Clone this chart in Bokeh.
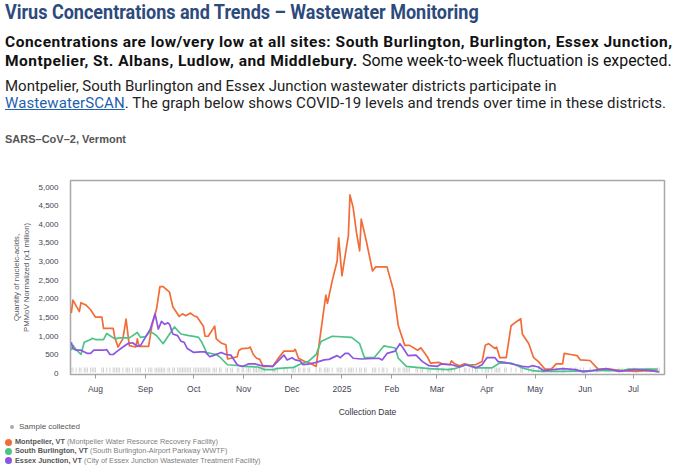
import numpy as np
import pandas as pd
from bokeh.plotting import figure
from bokeh.models import Range1d, FixedTicker, Div, NumeralTickFormatter
from bokeh.layouts import column
from bokeh.embed import file_html
from bokeh.resources import INLINE

# ---------------------------------------------------------------- data
montpelier_dates = [
    "2024-07-17", "2024-07-18", "2024-07-22", "2024-07-23", "2024-07-26", "2024-07-29",
    "2024-08-01", "2024-08-05", "2024-08-06", "2024-08-12", "2024-08-13", "2024-08-15",
    "2024-08-18", "2024-08-20", "2024-08-22", "2024-08-26", "2024-08-27", "2024-08-28",
    "2024-09-03", "2024-09-05", "2024-09-08", "2024-09-10", "2024-09-12", "2024-09-16",
    "2024-09-18", "2024-09-22", "2024-09-24", "2024-09-26", "2024-09-29", "2024-10-01",
    "2024-10-03", "2024-10-07", "2024-10-08", "2024-10-10", "2024-10-14", "2024-10-15",
    "2024-10-18", "2024-10-21", "2024-10-22", "2024-10-25", "2024-10-28", "2024-10-29",
    "2024-10-31", "2024-11-04", "2024-11-05", "2024-11-07", "2024-11-09", "2024-11-11",
    "2024-11-13", "2024-11-19", "2024-11-22", "2024-11-26", "2024-12-02", "2024-12-03",
    "2024-12-05", "2024-12-09", "2024-12-12", "2024-12-16", "2024-12-18", "2024-12-22",
    "2024-12-23", "2024-12-26", "2024-12-29", "2024-12-30", "2025-01-01", "2025-01-05",
    "2025-01-06", "2025-01-08", "2025-01-10", "2025-01-12", "2025-01-13", "2025-01-16",
    "2025-01-20", "2025-01-22", "2025-01-29", "2025-02-02", "2025-02-05", "2025-02-09",
    "2025-02-12", "2025-02-17", "2025-02-19", "2025-02-23", "2025-02-25", "2025-03-02",
    "2025-03-05", "2025-03-09", "2025-03-10", "2025-03-12", "2025-03-15", "2025-03-18",
    "2025-03-21", "2025-03-25", "2025-03-29", "2025-03-31", "2025-04-02", "2025-04-06",
    "2025-04-07", "2025-04-09", "2025-04-13", "2025-04-16", "2025-04-19", "2025-04-22",
    "2025-04-23", "2025-04-27", "2025-04-30", "2025-05-03", "2025-05-07", "2025-05-11",
    "2025-05-14", "2025-05-18", "2025-05-19", "2025-05-23", "2025-05-27", "2025-05-29",
    "2025-06-04", "2025-06-09", "2025-06-16", "2025-06-24", "2025-07-03", "2025-07-09",
    "2025-07-16",
]
montpelier_values = [
    1620, 1970, 1660, 1900, 1840, 1710,
    1510, 1510, 1210, 1210, 970, 710,
    930, 1460, 750, 710, 930, 730,
    730, 1270, 1750, 2330, 2330, 2180,
    1790, 1530, 1600, 1550, 1620, 1550,
    1520, 1270, 1000, 1000, 1270, 930,
    820, 770, 390, 420, 450, 620,
    670, 680, 710, 510, 410, 380,
    190, 190, 380, 600, 600, 650,
    410, 320, 280, 190, 840, 2100,
    1880, 2490, 3010, 3640, 2620, 3700,
    4790, 4440, 3790, 3290, 4140, 3580,
    2750, 2860, 2860, 2230, 1280, 755,
    755, 625, 690, 450, 280, 300,
    250, 235, 340, 260, 210, 260,
    235, 235, 320, 755, 800, 670,
    710, 425, 425, 1280, 1380, 1470,
    1060, 800, 425, 320, 120, 120,
    260, 260, 540, 510, 480, 365,
    350, 120, 120, 80, 60, 80,
    60,
]

south_burlington_dates = [
    "2024-07-17", "2024-07-18", "2024-07-20", "2024-07-23", "2024-07-25", "2024-07-29",
    "2024-07-30", "2024-08-01", "2024-08-06", "2024-08-08", "2024-08-13", "2024-08-16",
    "2024-08-22", "2024-08-27", "2024-08-29", "2024-09-01", "2024-09-04", "2024-09-08",
    "2024-09-12", "2024-09-16", "2024-09-19", "2024-09-23", "2024-09-28", "2024-10-02",
    "2024-10-04", "2024-10-06", "2024-10-09", "2024-10-15", "2024-10-17", "2024-10-22",
    "2024-10-28", "2024-11-01", "2024-11-10", "2024-11-14", "2024-11-20", "2024-11-21",
    "2024-12-02", "2024-12-06", "2024-12-11", "2024-12-16", "2024-12-19", "2024-12-26",
    "2025-01-07", "2025-01-12", "2025-01-15", "2025-01-21", "2025-01-27", "2025-02-03",
    "2025-02-05", "2025-02-10", "2025-02-24", "2025-03-08", "2025-03-12", "2025-03-19",
    "2025-03-23", "2025-03-26", "2025-04-04", "2025-04-09", "2025-04-16", "2025-04-23",
    "2025-04-29", "2025-05-05", "2025-05-18", "2025-06-08", "2025-06-24", "2025-06-28",
    "2025-07-16",
]
south_burlington_values = [
    625, 755, 640, 510, 840, 910,
    945, 910, 910, 1075, 930, 955,
    955, 1100, 970, 990, 1130, 1015,
    800, 1060, 1250, 1060, 1015, 990,
    970, 840, 560, 510, 450, 235,
    215, 190, 175, 105, 105, 130,
    165, 250, 320, 510, 860, 1000,
    970, 800, 425, 425, 740, 685,
    410, 190, 130, 105, 130, 235,
    210, 150, 150, 280, 280, 150,
    80, 60, 60, 80, 80, 120,
    120,
]

essex_junction_dates = [
    "2024-07-17", "2024-07-18", "2024-07-20", "2024-07-23", "2024-07-27", "2024-07-29",
    "2024-07-31", "2024-08-06", "2024-08-08", "2024-08-10", "2024-08-12", "2024-08-14",
    "2024-08-18", "2024-08-21", "2024-08-24", "2024-08-27", "2024-08-29", "2024-09-01",
    "2024-09-04", "2024-09-07", "2024-09-09", "2024-09-11", "2024-09-13", "2024-09-15",
    "2024-09-16", "2024-09-18", "2024-09-21", "2024-09-23", "2024-09-25", "2024-09-27",
    "2024-10-01", "2024-10-05", "2024-10-08", "2024-10-11", "2024-10-13", "2024-10-18",
    "2024-10-21", "2024-10-24", "2024-10-28", "2024-10-31", "2024-11-03", "2024-11-04",
    "2024-11-08", "2024-11-12", "2024-11-19", "2024-11-22", "2024-11-26", "2024-11-28",
    "2024-12-01", "2024-12-03", "2024-12-06", "2024-12-08", "2024-12-11", "2024-12-16",
    "2024-12-21", "2024-12-24", "2024-12-29", "2024-12-31", "2025-01-03", "2025-01-05",
    "2025-01-08", "2025-01-13", "2025-01-24", "2025-01-26", "2025-01-29", "2025-02-03",
    "2025-02-06", "2025-02-08", "2025-02-11", "2025-02-16", "2025-02-20", "2025-02-24",
    "2025-03-01", "2025-03-04", "2025-03-10", "2025-03-15", "2025-03-19", "2025-03-25",
    "2025-03-29", "2025-04-01", "2025-04-06", "2025-04-08", "2025-04-12", "2025-04-19",
    "2025-04-23", "2025-04-27", "2025-04-29", "2025-05-03", "2025-05-06", "2025-05-18",
    "2025-05-26", "2025-05-31", "2025-06-14", "2025-06-22", "2025-07-01", "2025-07-11",
    "2025-07-17",
]
essex_junction_values = [
    840, 670, 625, 625, 540, 540,
    625, 625, 640, 510, 510, 580,
    710, 800, 825, 730, 755, 970,
    1190, 1600, 1190, 1400, 1320, 1360,
    1320, 1060, 1015, 870, 840, 670,
    565, 580, 580, 450, 480, 565,
    510, 495, 235, 190, 235, 260,
    260, 210, 190, 320, 495, 365,
    425, 365, 340, 235, 250, 300,
    365, 380, 480, 425, 540, 540,
    410, 390, 410, 365, 540, 600,
    800, 685, 480, 495, 320, 210,
    190, 260, 235, 175, 235, 150,
    235, 425, 425, 320, 300, 235,
    190, 175, 210, 175, 80, 130,
    105, 45, 130, 60, 105, 85,
    45,
]

site_names = ["Montpelier, VT", "South Burlington, VT", "Essex Junction, VT"]
facility_names = [
    "Montpelier Water Resource Recovery Facility",
    "South Burlington-Airport Parkway WWTF",
    "City of Essex Junction Wastewater Treatment Facility",
]
site_colors = ["#f26c38", "#4cc488", "#8c55e2"]

month_ticks = ["2024-08-01", "2024-09-01", "2024-10-01", "2024-11-01", "2024-12-01",
               "2025-01-01", "2025-02-01", "2025-03-01", "2025-04-01", "2025-05-01",
               "2025-06-01", "2025-07-01"]
month_labels = ["Aug", "Sep", "Oct", "Nov", "Dec", "2025", "Feb", "Mar", "Apr", "May",
                "Jun", "Jul"]

y_ticks = list(range(0, 5001, 500))

# ---------------------------------------------------------------- header text
def line(top, size, body, weight="normal", color="#111", scale=1.0, spacing=0.0):
    return (f'<div style="position:absolute;left:5px;top:{top}px;white-space:nowrap;'
            f"font-family:Roboto;font-size:{size}px;line-height:{size}px;font-weight:{weight};"
            f"letter-spacing:{spacing}px;color:{color};"
            f'transform:scaleX({scale});transform-origin:0 0;">{body}</div>')

header_html = "".join([
    line(2, 20, "Virus Concentrations and Trends &ndash; Wastewater Monitoring",
         weight="bold", color="#2d4a7c", scale=0.9),
    line(35, 15.5,
         "Concentrations are low/very low at all sites: South Burlington, Burlington, Essex Junction,",
         weight="bold", spacing=0.5),
    line(52.5, 15.5,
         'Montpelier, St. Albans, Ludlow, and Middlebury. '
         '<span style="font-weight:normal;letter-spacing:0;font-size:15.9px;">'
         "Some week-to-week fluctuation is expected.</span>",
         weight="bold", spacing=0.5),
    line(79, 15, "Montpelier, South Burlington and Essex Junction wastewater districts participate in",
         color="#222"),
    line(96, 15,
         '<span style="color:#1f5fb0;text-decoration:underline;">WastewaterSCAN</span>. '
         "The graph below shows COVID-19 levels and trends over time in these districts.",
         color="#222", spacing=0.1),
])
header = Div(
    width=680, height=150, margin=(0, 0, 0, 0),
    text=f"""<div style="position:relative;width:680px;height:150px;">{header_html}
<div style="position:absolute;left:5px;top:133px;white-space:nowrap;font-family:'Liberation Sans';
font-weight:bold;font-size:11px;line-height:12px;color:#555;">SARS&ndash;CoV&ndash;2, Vermont</div>
</div>""",
)

# ---------------------------------------------------------------- chart
def to_dt(values):
    return pd.to_datetime(values)

p = figure(
    width=680, height=269,
    x_axis_type="datetime",
    x_range=Range1d(pd.Timestamp("2024-07-16 12:00"), pd.Timestamp("2025-07-20 06:00")),
    y_range=Range1d(-26, 5175),
    output_backend="svg", toolbar_location=None,
    min_border_left=70, min_border_right=16, min_border_top=30, min_border_bottom=40,
)
p.background_fill_color = "white"
p.border_fill_color = "white"
p.outline_line_color = "#a8a8a8"
p.outline_line_width = 1.5
p.xgrid.grid_line_color = None
p.ygrid.grid_line_color = None

# sample-collection marks along the bottom of the frame
all_dates = sorted(set(montpelier_dates) | set(south_burlington_dates) | set(essex_junction_dates))
sample_level = 95
p.scatter(x=to_dt(all_dates), y=[sample_level] * len(all_dates), marker="dash",
          angle=np.pi / 2, size=5, line_color="#d2d2d2", line_width=1)

series = [
    (montpelier_dates, montpelier_values),
    (south_burlington_dates, south_burlington_values),
    (essex_junction_dates, essex_junction_values),
]
for (d, v), color in zip(series, site_colors):
    p.line(x=to_dt(d), y=v, line_color=color, line_width=1.7, line_join="round")

font = "Liberation Sans"

tick_ms = [int(pd.Timestamp(t).value // 10**6) for t in month_ticks]
p.xaxis.ticker = FixedTicker(ticks=tick_ms)
p.xaxis.major_label_overrides = {ms: lab for ms, lab in zip(tick_ms, month_labels)}
p.xaxis.axis_line_color = None
p.xaxis.major_tick_line_color = "#9a9a9a"
p.xaxis.major_tick_out = 4
p.xaxis.major_tick_in = 0
p.xaxis.minor_tick_line_color = None
p.xaxis.major_label_standoff = 5
p.xaxis.major_label_text_font = font
p.xaxis.major_label_text_font_size = "8.5px"
p.xaxis.major_label_text_color = "#444455"
p.xaxis.axis_label = "Collection Date"
p.xaxis.axis_label_text_font = font
p.xaxis.axis_label_text_font_size = "8.5px"
p.xaxis.axis_label_text_font_style = "normal"
p.xaxis.axis_label_text_color = "#333344"
p.xaxis.axis_label_standoff = 10

p.yaxis.ticker = FixedTicker(ticks=y_ticks)
p.yaxis.formatter = NumeralTickFormatter(format="0,0")
p.yaxis.axis_line_color = None
p.yaxis.major_tick_line_color = None
p.yaxis.minor_tick_line_color = None
p.yaxis.major_label_standoff = 6
p.yaxis.major_label_text_font = font
p.yaxis.major_label_text_font_size = "8px"
p.yaxis.major_label_text_color = "#444455"
p.yaxis.axis_label = "Quantity of nucleic-acids,\nPMMoV Normalized (x1 million)"
p.yaxis.axis_label_text_font = font
p.yaxis.axis_label_text_font_size = "7.8px"
p.yaxis.axis_label_text_font_style = "normal"
p.yaxis.axis_label_text_color = "#555560"
p.yaxis.axis_label_standoff = 4

# ---------------------------------------------------------------- legend
rows = ["""<div style="position:absolute;left:10px;top:3px;white-space:nowrap;font-size:8px;line-height:10px;color:#555;">
<span style="display:inline-block;width:4px;height:4px;border-radius:2px;background:#a8a8b8;
vertical-align:middle;margin-right:5px;"></span>Sample collected</div>"""]
for i, (name, fac, col) in enumerate(zip(site_names, facility_names, site_colors)):
    top = 18 + i * 9.3
    rows.append(
        f"""<div style="position:absolute;left:5px;top:{top}px;white-space:nowrap;font-size:7.3px;line-height:10px;">
<span style="display:inline-block;width:7px;height:7px;border-radius:4px;background:{col};
vertical-align:middle;margin-right:3px;"></span><b style="color:#555;">{name}</b>
<span style="color:#808080;">({fac})</span></div>"""
    )
legend = Div(
    width=680, height=50, margin=(0, 0, 0, 0),
    text=f"""<div style="position:relative;width:680px;height:50px;font-family:'Liberation Sans';">{''.join(rows)}</div>""",
)

layout = column(header, p, legend, spacing=0)
open("out.html", "w").write(file_html(layout, INLINE))
